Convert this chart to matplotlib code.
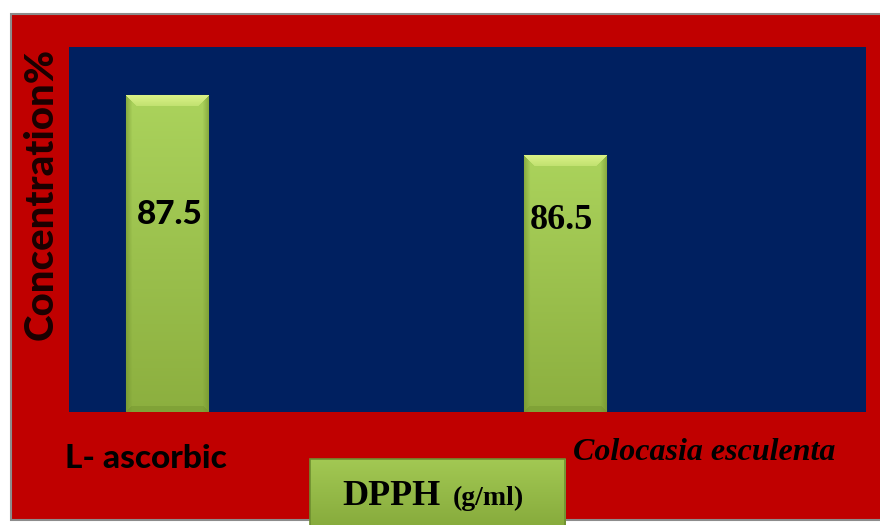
import matplotlib
matplotlib.use("Agg")
import matplotlib.pyplot as plt
import numpy as np
from matplotlib.patches import Rectangle
from matplotlib.colors import to_rgb

# DPPH scavenging (%) - reference vs extract
categories = ["L- ascorbic", "Colocasia esculenta"]
values = [87.5, 86.5]
value_labels = ["87.5", "86.5"]
y_range = (82.22, 88.3)

red_bg = "#C00000"
navy = "#002060"

fig = plt.figure(figsize=(8.8, 5.25), dpi=100)
fig.patch.set_facecolor("white")

# red frame with grey border, kept behind everything
fig.patches.append(Rectangle((11 / 880, 5 / 525), 1.0, 506 / 525, transform=fig.transFigure,
                             facecolor=red_bg, edgecolor="#8c8c8c", linewidth=1.5, zorder=-5))

ax = fig.add_axes([69 / 880, 113 / 525, 797 / 880, 365 / 525])
ax.set_zorder(1)
ax.set_facecolor(navy)
for s in ax.spines.values():
    s.set_visible(False)
ax.set_xticks([])
ax.set_yticks([])

x = np.arange(len(values))
width = 0.206
ax.set_xlim(-0.246, 1.756)
ax.set_ylim(*y_range)

bars = ax.bar(x, [v - y_range[0] for v in values], width, bottom=y_range[0],
              color="#A5CD56", edgecolor="#56741f", linewidth=0.8, zorder=2)


def bevel_image(w, h):
    top = np.array(to_rgb("#ABD35C"))
    bot = np.array(to_rgb("#8CAF3F"))
    light = np.array(to_rgb("#E2F78E"))
    dark = np.array(to_rgb("#6F8F2C"))
    yy, xx = np.mgrid[0:h, 0:w]
    t = (yy / max(h - 1, 1))[..., None]
    img = top * (1 - t) + bot * t
    b = 11
    dl, dr, dt, db = xx, w - 1 - xx, yy, h - 1 - yy
    side = np.minimum(dl, dr)
    top_band = (dt < b) & (dt <= side)
    side_band = (side < 6) & ~top_band
    bot_band = (db < 6) & (db <= side) & ~top_band
    f = (1 - dt / b).clip(0, 1)[..., None] * 0.45 + 0.4
    img = np.where(top_band[..., None], img * (1 - f) + light * f, img)
    g = (1 - side / 6).clip(0, 1)[..., None] * 0.55
    img = np.where(side_band[..., None], img * (1 - g) + dark * g, img)
    img = np.where(bot_band[..., None], img * 0.6 + dark * 0.4, img)
    return img


fig.canvas.draw()
for bar in bars:
    x0, y0 = bar.get_x(), bar.get_y()
    x1, y1 = x0 + bar.get_width(), y0 + bar.get_height()
    p0 = ax.transData.transform((x0, y0))
    p1 = ax.transData.transform((x1, y1))
    w = int(round(abs(p1[0] - p0[0])))
    h = int(round(abs(p1[1] - p0[1])))
    im = ax.imshow(bevel_image(w, h), extent=(x0, x1, y0, y1), aspect="auto",
                   interpolation="bilinear", zorder=3)
    im.set_clip_path(bar)
ax.set_xlim(-0.246, 1.756)
ax.set_ylim(*y_range)

# value labels inside bars
ax.text(x[0] + 0.008, 0.54, value_labels[0], transform=ax.get_xaxis_transform(),
        ha="center", va="center", fontsize=24, fontweight="black",
        family="Lato", color="black", zorder=5)
ax.text(x[1] - 0.01, 0.525, value_labels[1], transform=ax.get_xaxis_transform(),
        ha="center", va="center", fontsize=26, fontweight="bold",
        family="Liberation Serif", color="black", zorder=5)

# axis title and category names
fig.text(41 / 880, 331 / 525, "Concentration%", rotation=90, ha="center", va="center",
         fontsize=29, fontweight="black", family="Lato", color="#1a0000")
fig.text(146 / 880, 57 / 525, categories[0], ha="center", va="baseline",
         fontsize=24, fontweight="black", family="Lato", color="black")
fig.text(573 / 880, 65 / 525, categories[1], ha="left", va="baseline",
         fontsize=23, fontweight="bold", style="italic", family="Liberation Serif",
         color="black")

# DPPH box under the axis
c_top = np.array(to_rgb("#A2C853"))
c_bot = np.array(to_rgb("#88AC3D"))
box_img = c_top + np.linspace(0, 1, 50)[:, None, None] * (c_bot - c_top)
bax = fig.add_axes([310 / 880, 0, 255 / 880, 66 / 525])
bax.set_zorder(2)
bax.imshow(np.repeat(box_img, 10, axis=1), aspect="auto", extent=(0, 1, 0, 1))
bax.set_xlim(0, 1)
bax.set_ylim(0, 1)
bax.axis("off")
fig.patches.append(Rectangle((310 / 880, -0.05), 255 / 880, 0.05 + 66 / 525,
                             transform=fig.transFigure, facecolor="none",
                             edgecolor="#6E8F30", linewidth=1.2, zorder=5))
fig.text(342 / 880, 20 / 525, "DPPH", ha="left", va="baseline", fontsize=26,
         fontweight="bold", family="Liberation Serif", color="black", zorder=6)
fig.text(453 / 880, 20 / 525, "(g/ml)", ha="left", va="baseline", fontsize=20,
         fontweight="bold", family="Liberation Serif", color="black", zorder=6)

fig.savefig("out.png", dpi=100)
